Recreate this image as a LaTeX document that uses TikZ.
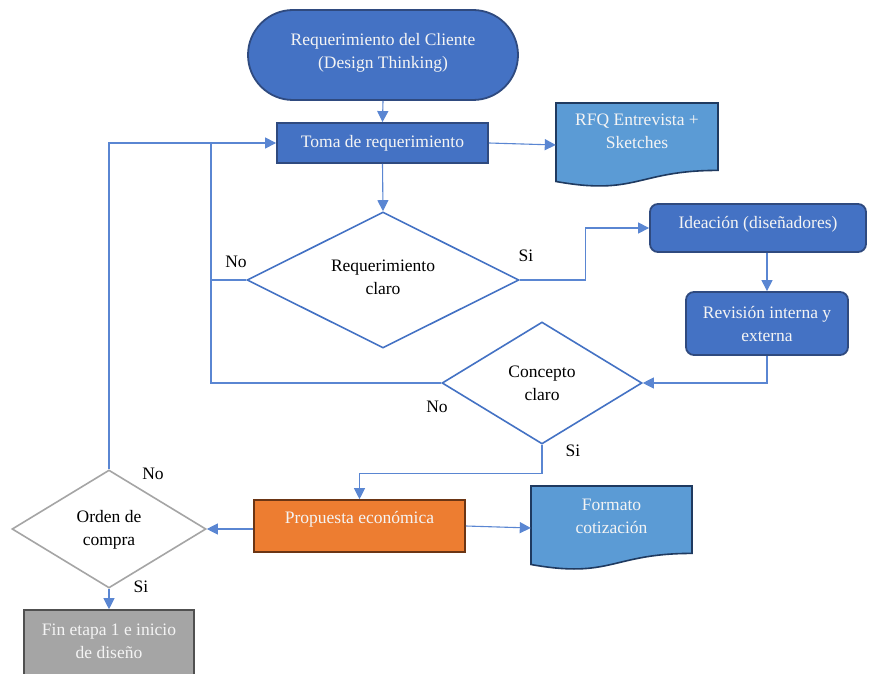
\documentclass[tikz,border=0pt]{standalone}
\usepackage{fontspec}
\setmainfont{Liberation Serif}
\usetikzlibrary{shapes.geometric,arrows.meta,calc}

\definecolor{boxblue}{HTML}{4472C4}
\definecolor{boxblueline}{HTML}{2F4A7F}
\definecolor{docblue}{HTML}{5B9BD5}
\definecolor{docline}{HTML}{1F3A60}
\definecolor{boxorange}{HTML}{ED7D31}
\definecolor{orangeline}{HTML}{6B3514}
\definecolor{boxgray}{HTML}{A5A5A5}
\definecolor{grayline}{HTML}{505050}
\definecolor{linkblue}{HTML}{5A86D2}
\definecolor{textwhite}{HTML}{F4F4F4}

\tikzset{
  base/.style={font=\fontsize{17.5}{23}\selectfont, align=center, inner sep=0pt},
  procbox/.style={base, rectangle, fill=boxblue, draw=boxblueline, line width=1.8pt, text=textwhite},
  roundbox/.style={procbox, rounded corners=8pt},
  terminal/.style={procbox, rounded corners=45pt},
  orangebox/.style={base, rectangle, fill=boxorange, draw=orangeline, line width=1.6pt, text=textwhite},
  graybox/.style={base, rectangle, fill=boxgray, draw=grayline, line width=1.6pt, text=textwhite},
  decision/.style={base, diamond, draw=boxblue, line width=1.6pt, fill=white, text=black},
  graydecision/.style={decision, draw=boxgray},
  docshape/.style={fill=docblue, draw=docline, line width=1.6pt},
  doctext/.style={base, text=textwhite},
  anchorbox/.style={rectangle, inner sep=0pt, draw=none},
  link/.style={draw=linkblue, line width=1.1pt},
  arr/.style={link, -{Triangle[length=11pt,width=11pt]}, color=linkblue},
  tag/.style={base, text=black}
}

\begin{document}
\begin{tikzpicture}[x=1pt, y=-1pt]
\clip (0,0) rectangle (878,674);
\fill[white] (0,0) rectangle (878,674);

% process nodes
\node[terminal, minimum width=270pt, minimum height=90pt] (start) at (383,55) {};
\node[base, text=textwhite] (startt) at (383,53) {Requerimiento del Cliente\\(Design Thinking)};
\node[procbox, minimum width=211pt, minimum height=40pt] (toma) at (382.5,143) {Toma de requerimiento};
\node[roundbox, minimum width=216pt, minimum height=48pt] (ide) at (758,228) {};
\node[base, text=textwhite] (idet) at (758,224) {Ideación (diseñadores)};
\node[roundbox, minimum width=162pt, minimum height=63pt] (rev) at (767,323.5) {Revisión interna y\\externa};
\node[orangebox, minimum width=211pt, minimum height=52pt] (prop) at (359.5,526) {};
\node[base, text=textwhite] (propt) at (359.5,519) {Propuesta económica};
\node[graybox, minimum width=170pt, minimum height=66pt] (fin) at (109,643) {};
\node[base, text=textwhite] (fint) at (109,641) {Fin etapa 1 e inicio\\de diseño};

% decisions
\node[decision, minimum width=272pt, minimum height=136pt, aspect=2] (d1) at (383,280) {};
\node[tag] (d1t) at (383,277) {Requerimiento\\claro};
\node[decision, minimum width=200pt, minimum height=122pt, aspect=1.64] (d2) at (542,383) {};
\node[tag] (d2t) at (542,383) {Concepto\\claro};
\node[graydecision, minimum width=194pt, minimum height=118pt, aspect=1.64] (d3) at (109,529) {};
\node[tag] (d3t) at (109,530) {Orden de\\compra};

% documents (wavy bottom edge)
\node[anchorbox, minimum width=162pt, minimum height=84pt] (rfq) at (637,145) {};
\draw[docshape] (556,103) -- (718,103) -- (718,170.4)
  .. controls (637,170.4) and (637,196) .. (556,181.5) -- cycle;
\node[doctext] (rfqt) at (637,131) {RFQ Entrevista +\\Sketches};
\node[anchorbox, minimum width=161pt, minimum height=84pt] (fmt) at (611.5,528) {};
\draw[docshape] (531,486) -- (692,486) -- (692,553.4)
  .. controls (611.5,553.4) and (611.5,579) .. (531,564.5) -- cycle;
\node[doctext] (fmtt) at (611.5,516) {Formato\\cotización};

% connectors
\coordinate (fbtop) at (211,144);
\draw[arr] (start.south) -- (toma.north);
\draw[arr] (toma.east) -- (rfq.west);
\draw[arr] (toma.south) -- (d1.north);
\draw[arr] (d1.east) -- ++(66,0) |- (ide.west);
\draw[arr] (ide.south -| rev.north) -- (rev.north);
\draw[arr] (rev.south) |- (d2.east);
\draw[arr] (d2.south) -- ++(0,29) -| (prop.north);
\draw[arr] (prop.east) -- (fmt.west);
\draw[arr] (prop.west |- d3.east) -- (d3.east);
\draw[arr] (d3.south) -- (fin.north);
\draw[arr] (d3.north) |- (toma.west);
\draw[link] (d2.west) -| (fbtop);
\draw[link] (d1.west) -- (d1.west -| fbtop);

% branch labels
\node[tag] (l1) at (236,262) {No};
\node[tag] (l2) at (526,256) {Si};
\node[tag] (l3) at (437,407) {No};
\node[tag] (l4) at (573,451) {Si};
\node[tag] (l5) at (153,474) {No};
\node[tag] (l6) at (141,587) {Si};
\end{tikzpicture}
\end{document}
